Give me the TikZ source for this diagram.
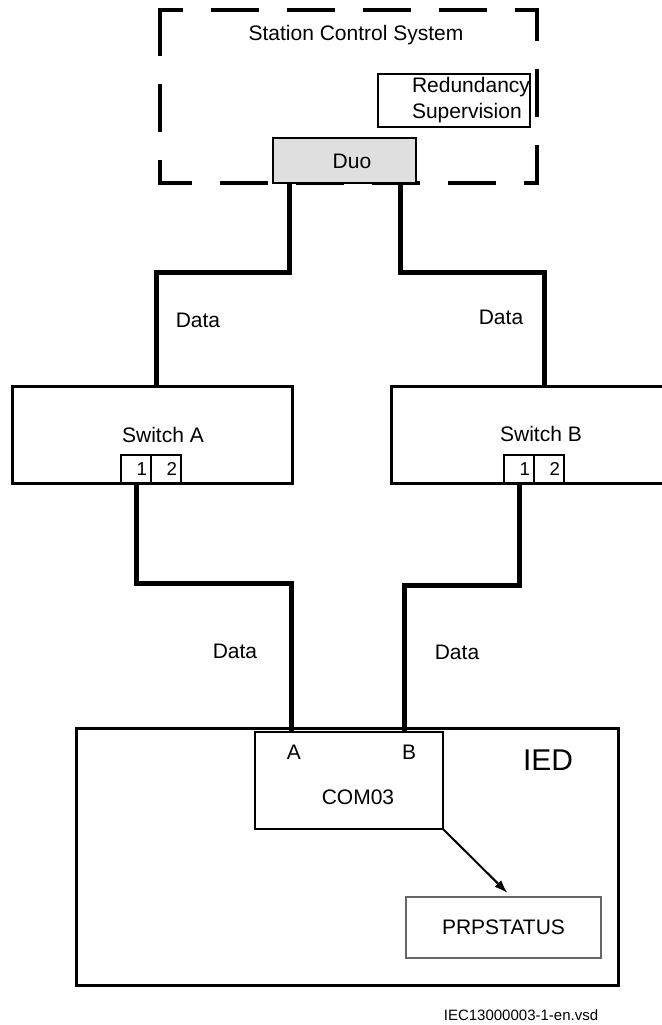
\documentclass[tikz,border=0pt]{standalone}
\usepackage{fontspec}
\setmainfont{Liberation Sans}
\usetikzlibrary{arrows.meta,positioning}

\begin{document}
\begin{tikzpicture}[>={Latex[length=10pt,width=7pt]},x=0.75pt,y=-0.75pt,font=\fontsize{15.75}{19.5}\selectfont]
  \tikzstyle{box}=[draw,line width=1.5pt,inner sep=0pt,outer sep=0pt]
  \tikzstyle{frame}=[box,line width=2.25pt]
  \tikzstyle{port}=[box,line width=1.2pt,minimum width=22.5pt,minimum height=21pt,text width=16.5pt,inner xsep=3pt,align=right,font=\fontsize{14}{16}\selectfont]
  \tikzstyle{wire}=[line width=3.75pt]
  \tikzstyle{dashline}=[line width=3pt,line cap=rect,dash pattern=on 33pt off 24pt]
  \tikzstyle{lbl}=[inner sep=0pt]
  \useasboundingbox (0,0) rectangle (661,1025);
  % station level
  \node[inner sep=0pt,minimum width=282.75pt,minimum height=129.75pt] (scs) at (348.5,96.5) {};
  \draw[dashline,dash phase=17pt] (scs.north west) -- (scs.north east);
  \draw[dashline,dash phase=0pt] (scs.north west) -- (scs.south west);
  \draw[dashline,dash phase=11pt] (scs.north east) -- (scs.south east);
  \draw[dashline,dash phase=10pt] (scs.south west) -- (scs.south east);
  \node[lbl] (scstext) at (356,35) {Station Control System};
  \node[box,minimum width=114pt,minimum height=39.75pt] (red) at (454,100.5) {};
  \node[lbl,align=left] (redtext) at (471,100) {Redundancy\\Supervision};
  \node[box,fill=gray!25,minimum width=107.25pt,minimum height=33.75pt] (duo) at (344.5,160.5) {};
  \node[lbl] (duotext) at (352,161) {Duo};
  % switches
  \node[frame,minimum width=210pt,minimum height=72.75pt] (swa) at (152,434.5) {};
  \node[frame,minimum width=229.5pt,minimum height=72.75pt] (swb) at (544,434.5) {};
  \node[lbl] (swatext) at (163,435) {Switch A};
  \node[lbl] (swbtext) at (541,434) {Switch B};
  \node[port] (pa1) at (136,469) {1};
  \node[port,right=0pt of pa1] (pa2) {2};
  \node[port] (pb1) at (519,469) {1};
  \node[port,right=0pt of pb1] (pb2) {2};
  % IED
  \node[frame,minimum width=406.5pt,minimum height=192.75pt] (ied) at (347,856.5) {};
  \node[lbl,font=\fontsize{22.5}{27}\selectfont] (iedtext) at (548,760) {IED};
  \node[box,minimum width=141pt,minimum height=72.75pt] (com) at (349,780.5) {};
  \node[lbl] (porta) at (294,752) {A};
  \node[lbl] (portb) at (409,752) {B};
  \node[lbl] (comtext) at (358,797) {COM03};
  \node[box,draw=black!60,line width=1pt,minimum width=146.25pt,minimum height=45.75pt] (prp) at (503.5,927.5) {PRPSTATUS};
  % links
  \draw[wire] ([xshift=12pt]duo.south west) -- ++(0,89) -| ([xshift=3pt]swa.north);
  \draw[wire] ([xshift=-12pt]duo.south east) -- ++(0,89) -| (swb.north);
  \draw[wire] (pa1.south) -- ++(0,100) -| ([xshift=27pt]com.north west);
  \draw[wire] (pb1.south) -- ++(0,102) -| ([xshift=-29.25pt]com.north east);
  \draw[line width=1.5pt,->] (com.south east) -- ([xshift=3pt,yshift=3pt]prp.north);
  \node[lbl] (data1) at (198,320) {Data};
  \node[lbl] (data2) at (501,317) {Data};
  \node[lbl] (data3) at (235,651) {Data};
  \node[lbl] (data4) at (457,652) {Data};
  \node[lbl,font=\fontsize{11.25}{13}\selectfont] (docid) at (521,1015) {IEC13000003-1-en.vsd};
\end{tikzpicture}
\end{document}
